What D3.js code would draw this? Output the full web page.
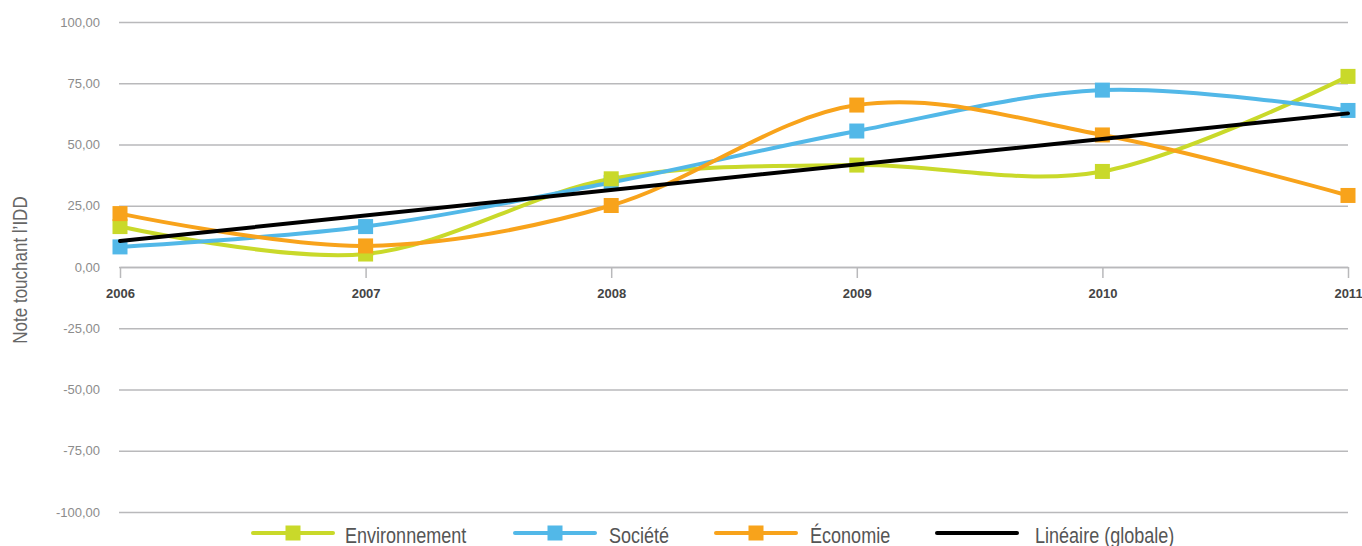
<!DOCTYPE html>
<html>
<head>
<meta charset="utf-8">
<script src="https://cdn.jsdelivr.net/npm/d3@7"></script>
<style>
  body { margin: 0; background: #fff; }
  svg { display: block; }
</style>
</head>
<body>
<div id="my_dataviz"></div>
<script>
// data
const years = ["2006", "2007", "2008", "2009", "2010", "2011"];
const environnement = [16.5, 5.3, 36.0, 41.6, 39.0, 77.8];
const societe = [8.2, 16.5, 34.5, 55.5, 72.2, 63.9];
const economie = [21.8, 8.6, 25.1, 66.1, 53.9, 29.2];
// linear trend (globale), start and end values
const trendYears = ["2006", "2011"];
const trendValues = [10.6, 62.7];
const yTicks = [-100, -75, -50, -25, 0, 25, 50, 75, 100];

const series = [
  {name: "Environnement", values: environnement, color: "#c9d92a"},
  {name: "Société", values: societe, color: "#52b8e8"},
  {name: "Économie", values: economie, color: "#f8a31b"}
];

const width = 1362, height = 546;
const sans = "'Liberation Sans', Arial, sans-serif";

const svg = d3.select("#my_dataviz")
  .append("svg")
    .attr("width", width)
    .attr("height", height);

const x = d3.scalePoint()
  .domain(years)
  .range([120, 1348]);

const y = d3.scaleLinear()
  .domain([-100, 100])
  .range([512, 22]);

const fr = d3.formatLocale({decimal: ",", thousands: " ", grouping: [3], currency: ["", " €"], minus: "-"});
const fmt = fr.format(".2f");

// Y axis with gridlines
const yAxis = svg.append("g")
  .attr("transform", "translate(119,0)")
  .call(d3.axisLeft(y)
    .tickValues(yTicks)
    .tickSize(-(1348 - 119))
    .tickPadding(19)
    .tickFormat(fmt));
yAxis.select(".domain").remove();
yAxis.selectAll("line")
  .attr("stroke", "#b9b9bb")
  .attr("stroke-width", 1.3);
yAxis.selectAll("text")
  .attr("fill", "#8c8c8c")
  .attr("font-family", sans)
  .attr("font-size", "13px");

// X axis at zero
const xAxis = svg.append("g")
  .attr("transform", `translate(0,${y(0)})`)
  .call(d3.axisBottom(x).tickSize(11).tickSizeOuter(0).tickPadding(11));
xAxis.select(".domain").attr("stroke", "#b9b9bb").attr("stroke-width", 1.3);
xAxis.selectAll("line").attr("stroke", "#b9b9bb").attr("stroke-width", 1.5);
xAxis.selectAll("text")
  .attr("fill", "#444")
  .attr("font-family", sans)
  .attr("font-weight", "bold")
  .attr("font-size", "13px");

// Y axis title (condensed look)
svg.append("text")
  .attr("transform", "translate(27,270) rotate(-90) scale(0.85,1)")
  .attr("text-anchor", "middle")
  .attr("font-family", sans)
  .attr("font-size", "20px")
  .attr("fill", "#666")
  .text("Note touchant l\u2019IDD");

// smoothed lines
const line = d3.line()
  .x((d, i) => x(years[i]))
  .y(d => y(d))
  .curve(d3.curveCardinal.tension(0));

svg.selectAll(".serie")
  .data(series)
  .join("path")
    .attr("class", "serie")
    .attr("d", d => line(d.values))
    .attr("fill", "none")
    .attr("stroke", d => d.color)
    .attr("stroke-width", 4);

// markers
const markerOrder = [series[1], series[0], series[2]];
markerOrder.forEach(s => {
  svg.selectAll(null)
    .data(s.values)
    .join("rect")
      .attr("x", (d, i) => x(years[i]) - 7.5)
      .attr("y", d => y(d) - 7.5)
      .attr("width", 15)
      .attr("height", 15)
      .attr("fill", s.color);
});

// trend line
svg.append("line")
  .attr("x1", x(trendYears[0]))
  .attr("y1", y(trendValues[0]))
  .attr("x2", x(trendYears[1]))
  .attr("y2", y(trendValues[1]))
  .attr("stroke", "#000")
  .attr("stroke-width", 4)
  .attr("stroke-linecap", "round");

// legend
const legendItems = [
  {name: "Environnement", color: "#c9d92a", marker: true, x0: 253, tx: 345},
  {name: "Société", color: "#52b8e8", marker: true, x0: 515, tx: 609},
  {name: "Économie", color: "#f8a31b", marker: true, x0: 716, tx: 810},
  {name: "Linéaire (globale)", color: "#000", marker: false, x0: 937, tx: 1035}
];
const ly = 533;
const legend = svg.append("g");
legendItems.forEach(it => {
  legend.append("line")
    .attr("x1", it.x0).attr("x2", it.x0 + 80)
    .attr("y1", ly).attr("y2", ly)
    .attr("stroke", it.color)
    .attr("stroke-width", 4)
    .attr("stroke-linecap", "round");
  if (it.marker) {
    legend.append("rect")
      .attr("x", it.x0 + 40 - 7.5)
      .attr("y", ly - 7.5)
      .attr("width", 15).attr("height", 15)
      .attr("fill", it.color);
  }
  legend.append("text")
    .attr("transform", `translate(${it.tx},${ly + 10}) scale(0.82,1)`)
    .attr("font-family", sans)
    .attr("font-size", "22px")
    .attr("fill", "#555")
    .text(it.name);
});
</script>
</body>
</html>
